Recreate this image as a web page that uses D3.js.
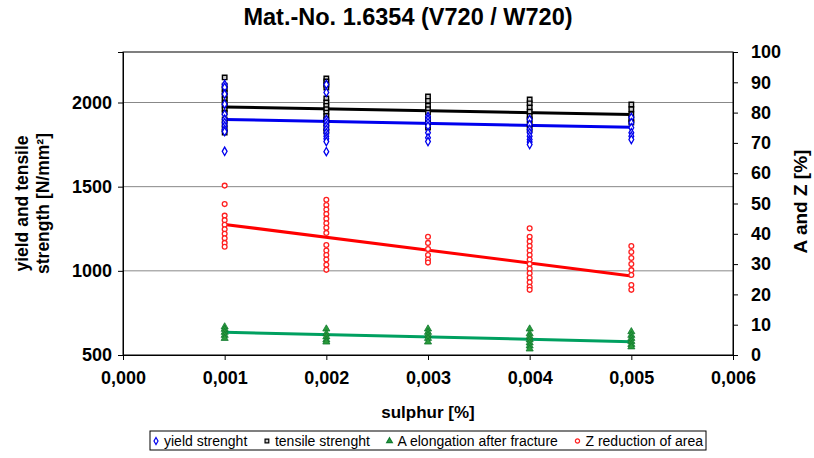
<!DOCTYPE html>
<html><head><meta charset="utf-8">
<script src="https://cdn.jsdelivr.net/npm/d3@7/dist/d3.min.js"></script>
<style>body{margin:0;background:#fff;font-family:"Liberation Sans",Arial,sans-serif;}</style>
</head><body><svg id="c" width="814" height="458"></svg>
<script>
const title = "Mat.-No. 1.6354 (V720 / W720)";
const sulphurLevels = [0.001, 0.002, 0.003, 0.004, 0.005];
const xTicks = [0, 0.001, 0.002, 0.003, 0.004, 0.005, 0.006];
const leftTicks = [500, 1000, 1500, 2000];
const rightTicks = [0,10,20,30,40,50,60,70,80,90,100];
// scatter values per sulphur level
const yieldVals = [
  [2107, 2090, 2050, 1990, 1930, 1900, 1880, 1860, 1840, 1827, 1710],
  [2107, 2060, 1899, 1880, 1860, 1840, 1820, 1800, 1785, 1768, 1708],
  [1917, 1900, 1880, 1860, 1820, 1790, 1768],
  [1899, 1870, 1840, 1820, 1800, 1780, 1765, 1750],
  [1911, 1880, 1850, 1820, 1800, 1780]
];
const tensileVals = [
  [2149, 2100, 2080, 2060, 2040, 2020, 2000, 1980, 1960, 1940, 1900, 1870, 1840, 1821],
  [2143, 2125, 2107, 2089, 2024, 2000, 1980, 1960, 1940, 1920, 1900, 1880, 1850, 1827],
  [2036, 2010, 1980, 1960, 1940, 1900, 1870, 1851],
  [2018, 1995, 1970, 1945, 1920, 1900, 1870, 1839],
  [1988, 1960, 1930, 1900, 1881]
];
const elongVals = [
  [9.3, 8.5, 7.5, 6.5, 5.5],
  [8.6, 7, 6, 5, 4.3],
  [8.6, 7.5, 6.5, 5.5, 4.3],
  [8.6, 7, 6, 5, 4, 3, 2],
  [7.7, 6.5, 5.5, 4.5, 3.5, 2.7]
];
const reductionVals = [
  [55.9, 49.8, 46, 44.5, 43, 41.5, 40, 38.5, 37, 35.7],
  [51.2, 49.5, 48, 46.5, 45, 43.5, 42, 40.3, 36.3, 34.5, 33, 31.5, 29.8, 28.1],
  [39, 37, 35, 33, 31.5, 30.5],
  [41.8, 39, 37.5, 36, 34.5, 33, 31.5, 30, 28.5, 27, 25.5, 24, 22.5, 21.5],
  [36, 34, 32, 30, 28, 26.4, 23.1, 21.5]
];
// trend line end values at sulphur 0.001 and 0.005
const trendX = [0.001, 0.005];
const yieldTrend = [1899, 1853];
const tensileTrend = [1974, 1929];
const elongTrend = [7.5, 4.4];
const reductionTrend = [43.1, 26.1];
const legendLabels = ["yield strenght", "tensile strenght", "A elongation after fracture", "Z reduction of area"];

const svg = d3.select("#c");
const L = 123, R = 733, T = 52, B = 355;
const x = d3.scaleLinear().domain([0, 0.006]).range([L, R]);
const yL = d3.scaleLinear().domain([500, 2300]).range([B, T]);
const yR = d3.scaleLinear().domain([0, 100]).range([B, T]);
const fmt = d => d3.format(".3f")(d).replace(".", ",");
const FF = "'Liberation Sans', Arial, sans-serif";

// grid
svg.append("g").selectAll("line").data([1000,1500,2000]).join("line")
  .attr("x1", L).attr("x2", R).attr("y1", d=>yL(d)).attr("y2", d=>yL(d))
  .attr("stroke", "#888").attr("stroke-width", 1);
// frame
svg.append("rect").attr("x", L).attr("y", T).attr("width", R-L).attr("height", B-T)
  .attr("fill", "none").attr("stroke", "#000").attr("stroke-width", 1);

const fontAx = `bold 18px ${FF}`;
const gx = svg.append("g").attr("transform", `translate(0,${B})`)
  .call(d3.axisBottom(x).tickValues(xTicks).tickFormat(fmt).tickSize(5).tickPadding(11));
const gl = svg.append("g").attr("transform", `translate(${L},0)`)
  .call(d3.axisLeft(yL).tickValues(leftTicks).tickFormat(d3.format("d")).tickSize(5).tickPadding(6));
const gr = svg.append("g").attr("transform", `translate(${R},0)`)
  .call(d3.axisRight(yR).tickValues(rightTicks).tickSize(5).tickPadding(13));
[gx, gl, gr].forEach(g => {
  g.select(".domain").attr("stroke", "#000");
  g.selectAll(".tick line").attr("stroke", "#000");
  g.selectAll("text").style("font", fontAx).attr("fill", "#000");
});

// trend lines
function trend(vals, scale, color) {
  svg.append("line").attr("x1", x(trendX[0])).attr("x2", x(trendX[1]))
    .attr("y1", scale(vals[0])).attr("y2", scale(vals[1]))
    .attr("stroke", color).attr("stroke-width", 3);
}
trend(yieldTrend, yL, "#0000ee");
trend(tensileTrend, yL, "#000");
trend(reductionTrend, yR, "#ff0000");
trend(elongTrend, yR, "#00a060");

function flat(arr) { const o=[]; arr.forEach((vs,i)=>vs.forEach(v=>o.push([sulphurLevels[i], v]))); return o; }
const sym = (type, size) => d3.symbol().type(type).size(size);
svg.append("g").selectAll("path").data(flat(tensileVals)).join("path")
  .attr("d", sym(d3.symbolSquare, 20)()).attr("transform", d=>`translate(${x(d[0])},${yL(d[1])})`)
  .attr("fill", "#ccc").attr("stroke", "#000").attr("stroke-width", 1.4);
svg.append("g").selectAll("path").data(flat(yieldVals)).join("path")
  .attr("d", sym(d3.symbolDiamond, 20)()).attr("transform", d=>`translate(${x(d[0])},${yL(d[1])})`)
  .attr("fill", "#fff").attr("stroke", "#0000ee").attr("stroke-width", 1.3);
svg.append("g").selectAll("path").data(flat(reductionVals)).join("path")
  .attr("d", sym(d3.symbolCircle, 18)()).attr("transform", d=>`translate(${x(d[0])},${yR(d[1])})`)
  .attr("fill", "#fff").attr("stroke", "#ff2020").attr("stroke-width", 1.3);
svg.append("g").selectAll("path").data(flat(elongVals)).join("path")
  .attr("d", sym(d3.symbolTriangle, 22)()).attr("transform", d=>`translate(${x(d[0])},${yR(d[1])})`)
  .attr("fill", "#2a9a3a").attr("stroke", "#107a30").attr("stroke-width", 0.8);

// titles
svg.append("text").attr("x", 408).attr("y", 25).attr("text-anchor", "middle")
  .style("font", `bold 23.5px ${FF}`).text(title);
svg.append("text").attr("x", 428).attr("y", 418).attr("text-anchor", "middle")
  .style("font", `bold 17px ${FF}`).text("sulphur [%]");
const ylab = svg.append("text").attr("transform", `translate(28,${(T+B)/2}) rotate(-90)`)
  .attr("text-anchor", "middle").style("font", `bold 17.5px ${FF}`);
ylab.append("tspan").attr("x", 0).attr("dy", 0).text("yield and tensile");
ylab.append("tspan").attr("x", 0).attr("dy", 21).text("strength [N/mm²]");
svg.append("text").attr("transform", `translate(807,${(T+B)/2 - 2}) rotate(-90)`)
  .attr("text-anchor", "middle").style("font", `bold 19px ${FF}`).text("A and Z [%]");

// legend (laid out sequentially to fill the box)
const lg = svg.append("g");
lg.append("rect").attr("x", 150).attr("y", 431).attr("width", 556).attr("height", 19)
  .attr("fill", "#fff").attr("stroke", "#000").attr("stroke-width", 1);
const legStyles = [
  {s: d3.symbolDiamond, f: "#fff", c: "#0000ee"},
  {s: d3.symbolSquare, f: "#ccc", c: "#000"},
  {s: d3.symbolTriangle, f: "#2a9a3a", c: "#107a30"},
  {s: d3.symbolCircle, f: "#fff", c: "#ff2020"}
];
const texts = legendLabels.map(t => lg.append("text").attr("y", 446)
  .style("font", `14px ${FF}`).text(t));
const widths = texts.map(t => t.node().getComputedTextLength());
const startX = 152, endX = 703, mk = 12;
const gap = (endX - startX - d3.sum(widths) - mk * widths.length) / (widths.length - 1);
let cur = startX;
legStyles.forEach((st, i) => {
  lg.append("path").attr("d", sym(st.s, 14)()).attr("transform", `translate(${cur + 4},441)`)
    .attr("fill", st.f).attr("stroke", st.c).attr("stroke-width", 1.2);
  texts[i].attr("x", cur + mk);
  cur += mk + widths[i] + gap;
});
</script></body></html>
